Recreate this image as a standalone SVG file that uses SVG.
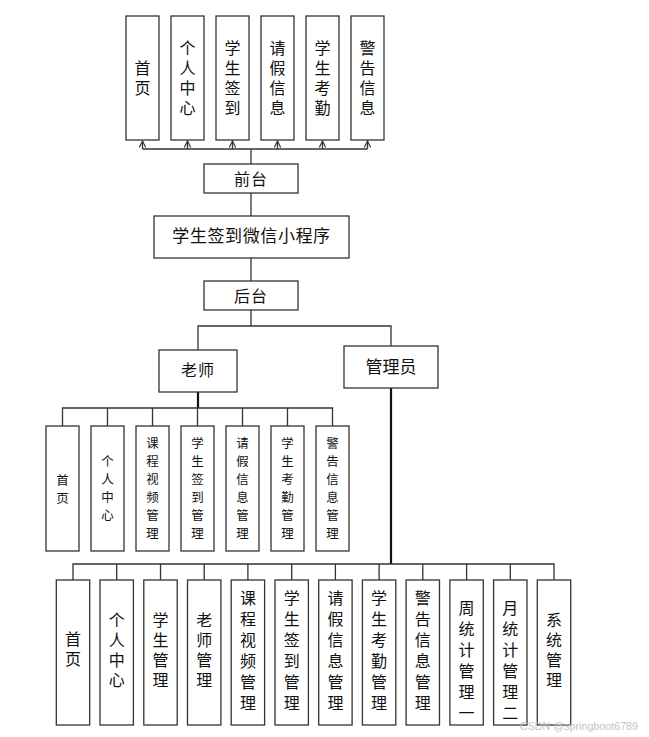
<svg xmlns="http://www.w3.org/2000/svg" width="649" height="737" viewBox="0 0 649 737">
<style>
.box{fill:#fff;stroke:#333;stroke-width:1.3}
.ln{fill:none;stroke:#333;stroke-width:1.3}
.thick{fill:none;stroke:#111;stroke-width:2.2}
text{font-family:"Noto Sans CJK SC","Noto Sans",sans-serif;fill:#111;text-anchor:middle}
.v{writing-mode:vertical-rl}
.t16{font-size:16px}
.t17{font-size:17px}
.t12{font-size:12.5px}
.top{font-size:16px;letter-spacing:3.7px}
.mid{font-size:12.5px;letter-spacing:5.5px}
.b4{font-size:16px;letter-spacing:4px}
.b6{font-size:16px;letter-spacing:5px}
.wm{font-family:"Liberation Sans",sans-serif;font-size:11px;fill:#c4c4c4;text-anchor:start}
</style>
<defs>
<marker id="arr" viewBox="0 0 10 10" refX="9" refY="5" markerWidth="8" markerHeight="8" markerUnits="userSpaceOnUse" orient="auto">
<path d="M1,1 L9,5 L1,9" fill="none" stroke="#333" stroke-width="1.4"/>
</marker>
</defs>
<rect width="649" height="737" fill="#fff"/>

<g id="connectors">
<path class="ln" d="M142.5,149 H367.5"/>
<path class="ln" d="M142.5,149 V141" marker-end="url(#arr)"/>
<path class="ln" d="M187.5,149 V141" marker-end="url(#arr)"/>
<path class="ln" d="M232.5,149 V141" marker-end="url(#arr)"/>
<path class="ln" d="M277.5,149 V141" marker-end="url(#arr)"/>
<path class="ln" d="M322.5,149 V141" marker-end="url(#arr)"/>
<path class="ln" d="M367.5,149 V141" marker-end="url(#arr)"/>
<path class="ln" d="M251,149 V164"/>
<path class="ln" d="M251,193 V216"/>
<path class="ln" d="M251,258 V281"/>
<path class="ln" d="M251,310 V326 M198,350 V326 H391 V346"/>
<path class="thick" d="M198,392 V408"/>
<path class="ln" d="M62.5,426 V408 H332.5 V426 M107.5,408 V426 M152.5,408 V426 M197.5,408 V426 M242.5,408 V426 M287.5,408 V426"/>
<path class="thick" d="M391,388 V564"/>
<path class="ln" d="M73,580 V564 H554 V580 M116.7,564 V580 M160.5,564 V580 M204.2,564 V580 M247.9,564 V580 M291.7,564 V580 M335.4,564 V580 M379.1,564 V580 M422.8,564 V580 M466.6,564 V580 M510.3,564 V580"/>
</g>

<g id="f1"><rect class="box" x="126" y="16" width="33" height="124"/><text class="v top" x="142.5" y="79.8">首页</text></g>
<g id="f2"><rect class="box" x="171" y="16" width="33" height="124"/><text class="v top" x="187.5" y="79.8">个人中心</text></g>
<g id="f3"><rect class="box" x="216" y="16" width="33" height="124"/><text class="v top" x="232.5" y="79.8">学生签到</text></g>
<g id="f4"><rect class="box" x="261" y="16" width="33" height="124"/><text class="v top" x="277.5" y="79.8">请假信息</text></g>
<g id="f5"><rect class="box" x="306" y="16" width="33" height="124"/><text class="v top" x="322.5" y="79.8">学生考勤</text></g>
<g id="f6"><rect class="box" x="351" y="16" width="33" height="124"/><text class="v top" x="367.5" y="79.8">警告信息</text></g>

<g id="front"><rect class="box" x="204" y="164" width="94" height="29"/><text class="t16" x="251" y="184.5" letter-spacing="1">前台</text></g>
<g id="main"><rect class="box" x="154" y="216" width="195" height="42"/><text class="t17" x="251.5" y="241.5" letter-spacing="0.6">学生签到微信小程序</text></g>
<g id="back"><rect class="box" x="204" y="281" width="94" height="29"/><text class="t16" x="251" y="302" letter-spacing="1">后台</text></g>
<g id="teacher"><rect class="box" x="159" y="350" width="78" height="42"/><text class="t16" x="198" y="375.5" letter-spacing="1">老师</text></g>
<g id="admin"><rect class="box" x="344" y="346" width="94" height="42"/><text class="t17" x="391" y="373">管理员</text></g>

<g id="t1"><rect class="box" x="46" y="426" width="33" height="125"/><text class="v mid" x="62.5" y="491.5">首页</text></g>
<g id="t2"><rect class="box" x="91" y="426" width="33" height="125"/><text class="v mid" x="107.5" y="491">个人中心</text></g>
<g id="t3"><rect class="box" x="136" y="426" width="33" height="125"/><text class="v mid" x="152.5" y="490.8">课程视频管理</text></g>
<g id="t4"><rect class="box" x="181" y="426" width="33" height="125"/><text class="v mid" x="197.5" y="490.8">学生签到管理</text></g>
<g id="t5"><rect class="box" x="226" y="426" width="33" height="125"/><text class="v mid" x="242.5" y="490.8">请假信息管理</text></g>
<g id="t6"><rect class="box" x="271" y="426" width="33" height="125"/><text class="v mid" x="287.5" y="490.8">学生考勤管理</text></g>
<g id="t7"><rect class="box" x="316" y="426" width="33" height="125"/><text class="v mid" x="332.5" y="490.8">警告信息管理</text></g>

<g id="a1"><rect class="box" x="56.3" y="580" width="33.4" height="145"/><text class="v b4" x="73" y="651">首页</text></g>
<g id="a2"><rect class="box" x="100" y="580" width="33.4" height="145"/><text class="v b4" x="116.7" y="652">个人中心</text></g>
<g id="a3"><rect class="box" x="143.8" y="580" width="33.4" height="145"/><text class="v b4" x="160.5" y="652">学生管理</text></g>
<g id="a4"><rect class="box" x="187.5" y="580" width="33.4" height="145"/><text class="v b4" x="204.2" y="652">老师管理</text></g>
<g id="a5"><rect class="box" x="231.2" y="580" width="33.4" height="145"/><text class="v b6" x="247.9" y="653">课程视频管理</text></g>
<g id="a6"><rect class="box" x="275" y="580" width="33.4" height="145"/><text class="v b6" x="291.7" y="653">学生签到管理</text></g>
<g id="a7"><rect class="box" x="318.7" y="580" width="33.4" height="145"/><text class="v b6" x="335.4" y="653">请假信息管理</text></g>
<g id="a8"><rect class="box" x="362.4" y="580" width="33.4" height="145"/><text class="v b6" x="379.1" y="653">学生考勤管理</text></g>
<g id="a9"><rect class="box" x="406.1" y="580" width="33.4" height="145"/><text class="v b6" x="422.8" y="653">警告信息管理</text></g>
<g id="a10"><rect class="box" x="449.9" y="580" width="33.4" height="145"/><text class="v b6" x="466.6" y="663">周统计管理一</text></g>
<g id="a11"><rect class="box" x="493.6" y="580" width="33.4" height="145"/><text class="v b6" x="510.3" y="663">月统计管理二</text></g>
<g id="a12"><rect class="box" x="537.3" y="580" width="33.4" height="145"/><text class="v b4" x="554" y="652">系统管理</text></g>

<g id="watermark"><text class="wm" x="520" y="730" textLength="118" lengthAdjust="spacingAndGlyphs">CSDN @springboot6789</text></g>
</svg>
